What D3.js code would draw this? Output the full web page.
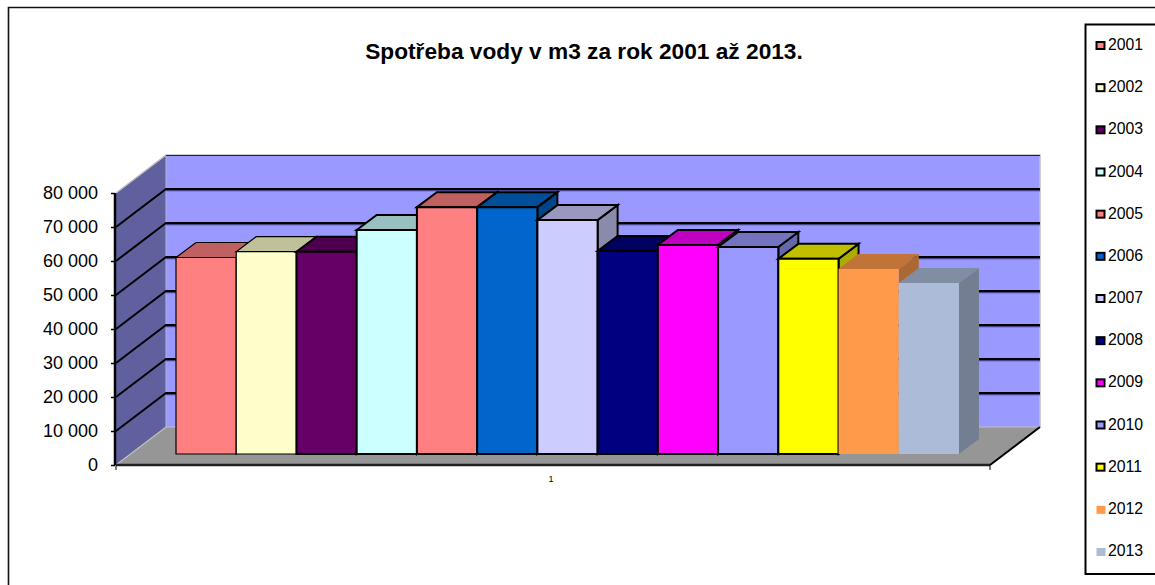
<!DOCTYPE html>
<html><head><meta charset="utf-8">
<script src="https://cdn.jsdelivr.net/npm/d3@7/dist/d3.min.js"></script>
<style>html,body{margin:0;padding:0;background:#fff}svg{display:block}text{font-family:"Liberation Sans",Arial,sans-serif;fill:#000}</style>
</head><body><div id="c"></div>
<script>
const years=["2001","2002","2003","2004","2005","2006","2007","2008","2009","2010","2011","2012","2013"];
const values=[57800,59500,59500,65900,72600,72600,68800,59700,61500,60900,57400,54400,50300];
const colors=["#ff8080","#ffffcc","#660066","#ccffff","#ff8080","#0066cc","#ccccff","#000080","#ff00ff","#9999ff","#ffff00","#ff9a4a","#abbbd8"];
const outlined=["2001","2002","2003","2004","2005","2006","2007","2008","2009","2010","2011"];
const yTicks=[0,10000,20000,30000,40000,50000,60000,70000,80000];
const categoryLabels=["1"];
const titleText="Spotřeba vody v m3 za rok 2001 až 2013.";

const W=1155,H=585;
const svg=d3.select("#c").append("svg").attr("width",W).attr("height",H);
const line=d3.line();
const poly=(pts,fill,stroke,sw)=>svg.append("path").attr("d",line(pts)+"Z").attr("fill",fill).attr("stroke",stroke||"none").attr("stroke-width",sw||0);

// outer frame
svg.append("path").attr("d",line([[8.5,585],[8.5,7.5],[1155,7.5]])).attr("fill","none").attr("stroke","#111").attr("stroke-width",1.6);
svg.append("path").attr("d",line([[1155,24.5],[1085.5,24.5],[1085.5,574],[1155,574]])).attr("fill","none").attr("stroke","#000").attr("stroke-width",2);

// geometry
const y=d3.scaleLinear().domain([0,80000]).range([465,193]);
const frontX0=116,frontX1=990,dx=50,dy=-38;
const x=d3.scaleBand().domain(years).range([176,959]);
const barBase=454, barDx=20, barDy=-15;
const barY=v=>barBase-(y(0)-y(v));

// walls + floor
poly([[frontX0,y(80000)],[frontX0+dx,y(80000)+dy],[frontX0+dx,y(0)+dy],[frontX0,y(0)]],"#60609f");
poly([[frontX0+dx,y(80000)+dy],[frontX1+dx,y(80000)+dy],[frontX1+dx,y(0)+dy],[frontX0+dx,y(0)+dy]],"#9999ff");
poly([[frontX0,y(0)],[frontX0+dx,y(0)+dy],[frontX1+dx,y(0)+dy],[frontX1,y(0)]],"#969696");

// wall edges
svg.append("path").attr("d",line([[frontX0,y(80000)],[frontX0+dx,y(80000)+dy],[frontX1+dx,y(80000)+dy],[frontX1+dx,y(0)+dy]])).attr("fill","none").attr("stroke","#c0c0c0").attr("stroke-width",1.5);
svg.append("path").attr("d",line([[frontX0+dx,y(80000)+dy],[frontX0+dx,y(0)+dy]])).attr("fill","none").attr("stroke","#b4b4dc").attr("stroke-width",1);
svg.append("path").attr("d",line([[frontX0,y(0)],[frontX0+dx,y(0)+dy],[frontX1+dx,y(0)+dy]])).attr("fill","none").attr("stroke","#c0c0c0").attr("stroke-width",1.2);

// gridlines
yTicks.forEach(t=>{
  if(t>0&&t<80000){
    svg.append("path").attr("d",line([[frontX0+dx,y(t)+dy+1.5],[frontX1+dx,y(t)+dy+1.5]])).attr("fill","none").attr("stroke","#45458a").attr("stroke-width",1.5);
    svg.append("path").attr("d",line([[frontX0,y(t)],[frontX0+dx,y(t)+dy],[frontX1+dx,y(t)+dy]])).attr("fill","none").attr("stroke","#000").attr("stroke-width",2);
  }
});
svg.append("path").attr("d",line([[frontX0+dx,y(80000)+dy+.5],[frontX1+dx,y(80000)+dy+.5]])).attr("fill","none").attr("stroke","#222").attr("stroke-width",1);

// front axis lines
svg.append("path").attr("d",line([[frontX0-1,y(80000)],[frontX0-1,y(0)]])).attr("fill","none").attr("stroke","#000").attr("stroke-width",2.5);
svg.append("path").attr("d",line([[frontX0,y(0)],[frontX1,y(0)]])).attr("fill","none").attr("stroke","#222").attr("stroke-width",2.5);
svg.append("path").attr("d",line([[frontX1,y(0)],[frontX1+dx,y(0)+dy]])).attr("fill","none").attr("stroke","#000").attr("stroke-width",2);
[frontX0,frontX1].forEach(px=>svg.append("path").attr("d",line([[px,y(0)],[px,y(0)+5]])).attr("stroke","#000").attr("stroke-width",1));

// axis ticks & labels via d3 axis
const fmt=v=>v===0?"0":d3.format(",")(v).replace(",","\u00a0");
const axisG=svg.append("g").attr("transform",`translate(${frontX0-1},0)`).call(d3.axisLeft(y).tickValues(yTicks).tickFormat(fmt).tickSize(4).tickPadding(13));
axisG.select(".domain").remove();
axisG.selectAll("line").attr("stroke","#000").attr("stroke-width",1.5);
axisG.selectAll("text").style("font-size","18px").attr("dy","0.3em").style("font-family",'"Liberation Sans",Arial,sans-serif').attr("fill","#000");

// bars
years.forEach((yr,i)=>{
  const x0=x(yr),x1=x0+x.bandwidth(),t=barY(values[i]);
  const c=d3.color(colors[i]);
  const has=outlined.includes(yr);
  const st=has?"#000":"none", sw=has?(i<2?1.2:2):0;
  poly([[x1,t],[x1+barDx,t+barDy],[x1+barDx,barBase+barDy],[x1,barBase]],c.darker(1.1).formatHex(),st,sw);
  poly([[x0,t],[x0+barDx,t+barDy],[x1+barDx,t+barDy],[x1,t]],c.darker(0.8).formatHex(),st,sw);
  poly([[x0,t],[x1,t],[x1,barBase],[x0,barBase]],colors[i],st,sw);
});

// title
svg.append("text").attr("x",584).attr("y",59).attr("text-anchor","middle").attr("font-weight","bold").style("font-size","22.7px").text(titleText);
// category label
svg.selectAll(".cat").data(categoryLabels).join("text").attr("class","cat").attr("x",551).attr("y",482).attr("text-anchor","middle").style("font-size","9px").text(d=>d);

// legend
const ly=d3.scalePoint().domain(years).range([45.5,551.5]);
years.forEach((yr,i)=>{
  const has=outlined.includes(yr);
  svg.append("rect").attr("x",1096.5).attr("y",ly(yr)-3.5).attr("width",has?8:9).attr("height",has?7:8)
    .attr("fill",colors[i]).attr("stroke",has?"#000":"none").attr("stroke-width",has?2:0);
  svg.append("text").attr("x",1108).attr("y",ly(yr)+4.5).style("font-size","15.8px").attr("fill","#222").text(yr);
});
</script></body></html>
